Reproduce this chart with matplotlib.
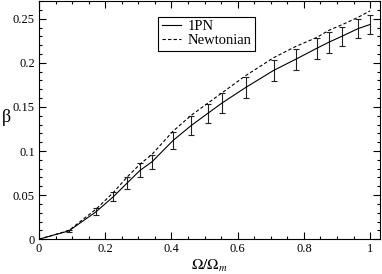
import matplotlib
matplotlib.use("Agg")
import matplotlib.pyplot as plt
from matplotlib.ticker import MultipleLocator

plt.rcParams['font.family'] = ['Liberation Serif', 'DejaVu Serif']
plt.rcParams['mathtext.fontset'] = 'stix'

omega = [0.0, 0.09, 0.172, 0.224, 0.267, 0.305, 0.342, 0.405, 0.46, 0.509, 0.553,
         0.624, 0.709, 0.775, 0.84, 0.876, 0.914, 0.963, 1.0]
beta_1pn = [0.0, 0.0094, 0.031, 0.048, 0.064, 0.078, 0.088, 0.112, 0.129, 0.1425, 0.1545,
            0.172, 0.1915, 0.204, 0.2167, 0.2235, 0.23, 0.2387, 0.2435]
err_1pn = [0.0, 0.001, 0.004, 0.005, 0.0066, 0.008, 0.008, 0.010, 0.011, 0.011, 0.011,
           0.012, 0.012, 0.012, 0.012, 0.012, 0.011, 0.011, 0.011]
beta_newt = [0.0, 0.0098, 0.034, 0.0527, 0.0708, 0.085, 0.0965, 0.1225, 0.1406, 0.154, 0.166,
             0.1855, 0.2059, 0.2185, 0.229, 0.237, 0.243, 0.2515, 0.259]

fig = plt.figure(figsize=(3.82, 2.74), dpi=100)
ax = fig.add_axes([0.102, 0.127, 0.893, 0.869])

ax.errorbar(omega[1:], beta_1pn[1:], yerr=err_1pn[1:], fmt='none', ecolor='#222222',
            elinewidth=0.8, capsize=2.5, capthick=0.8)
ax.plot(omega, beta_1pn, color='black', lw=0.8, label='1PN')
ax.plot(omega, beta_newt, color='black', lw=0.8, ls=(0, (3, 2)), label='Newtonian')

ax.set_xlim(0, 1.03)
ax.set_ylim(0, 0.27)
ax.xaxis.set_major_locator(MultipleLocator(0.2))
ax.xaxis.set_minor_locator(MultipleLocator(0.05))
ax.yaxis.set_major_locator(MultipleLocator(0.05))
ax.yaxis.set_minor_locator(MultipleLocator(0.01))
ax.set_xticks([0, 0.2, 0.4, 0.6, 0.8, 1.0])
ax.set_xticklabels(['0', '0.2', '0.4', '0.6', '0.8', '1'])
ax.set_yticks([0, 0.05, 0.1, 0.15, 0.2, 0.25])
ax.set_yticklabels(['0', '0.05', '0.1', '0.15', '0.2', '0.25'])
ax.tick_params(which='both', direction='in', top=True, right=True, labelsize=9, width=0.8)
ax.tick_params(which='major', length=5, pad=3)
ax.tick_params(which='minor', length=2.5)
for s in ax.spines.values():
    s.set_linewidth(0.8)

ax.set_xlabel(r'$\Omega/\Omega_m$', fontsize=11, labelpad=2)
ax.set_ylabel('β', fontsize=13, rotation=0, va='center', ha='center')
ax.yaxis.set_label_coords(-0.095, 0.51)

leg = ax.legend(loc='upper left', bbox_to_anchor=(0.349, 0.935), fontsize=10.5,
                frameon=True, fancybox=False, edgecolor='black', framealpha=1,
                handlelength=1.3, handletextpad=0.5, borderpad=0.25, labelspacing=0.05,
                borderaxespad=0)
leg.get_frame().set_linewidth(0.8)

fig.savefig('out.png', dpi=100)
